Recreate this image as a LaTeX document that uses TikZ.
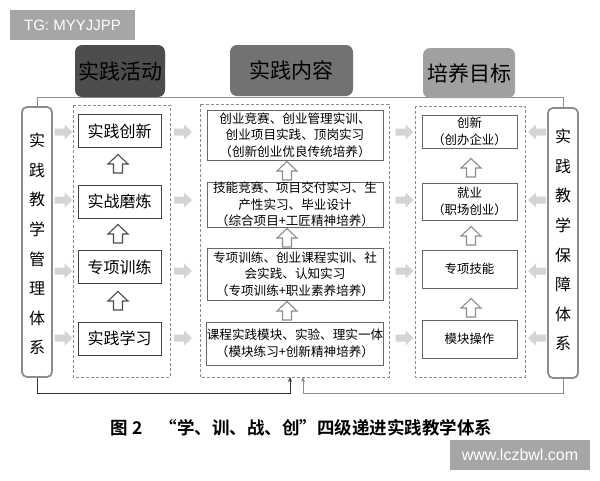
\documentclass[tikz,border=0pt]{standalone}
\usepackage{fontspec}
\setmainfont{Noto Sans CJK SC}[BoldFont={Noto Sans CJK SC Bold}]
\newfontfamily\latinfont{Liberation Sans}
\usetikzlibrary{positioning,arrows.meta}
\definecolor{hdrA}{HTML}{4D4D4D}
\definecolor{hdrB}{HTML}{727272}
\definecolor{hdrC}{HTML}{A0A0A0}
\definecolor{arrowgray}{HTML}{D4D4D4}
\definecolor{linegray}{HTML}{8C8C8C}
\definecolor{wmgray}{HTML}{A6A6A6}
\tikzset{
  hdr/.style={rounded corners=7pt, inner sep=0pt, font=\fontsize{21}{23}\selectfont, text=black},
  bar/.style={draw=linegray, line width=1.8pt, rounded corners=5pt, fill=white, minimum width=30pt, minimum height=270pt, inner sep=0pt},
  dbox/.style={draw=linegray, dashed, dash pattern=on 3pt off 2pt, line width=0.8pt},
  actbox/.style={draw=black!75, line width=0.9pt, fill=white, minimum width=83pt, minimum height=33pt, inner sep=0pt, font=\fontsize{16}{18}\selectfont},
  conbox/.style={draw=black!60, line width=0.9pt, fill=white, minimum width=176pt, inner sep=0pt, align=center, font=\fontsize{12.6}{16.5}\selectfont},
  goalbox/.style={draw=black!60, line width=0.9pt, fill=white, minimum width=95pt, inner sep=0pt, align=center, font=\fontsize{12.4}{17}\selectfont},
  vtext/.style={align=center, font=\fontsize{16}{29.6}\selectfont},
  conn/.style={line width=1pt},
  garrow/.pic={\fill[arrowgray] (-9,-3.5) -- (1,-3.5) -- (1,-7.5) -- (9,0) -- (1,7.5) -- (1,3.5) -- (-9,3.5) -- cycle;},
  uarrow/.pic={\draw[line width=1.1pt, fill=white, line join=miter] (-4.5,9) -- (-4.5,0) -- (-10,0) -- (0,-9.5) -- (10,0) -- (4.5,0) -- (4.5,9) -- cycle;}
}
\begin{document}
\begin{tikzpicture}[x=1pt,y=-1pt]
\useasboundingbox[fill=white] (0,0) rectangle (600,480);
% watermarks
\node[fill=wmgray, minimum width=125pt, minimum height=30pt, inner sep=0pt, text=white, font=\latinfont\fontsize{15}{17}\selectfont] (wm1) at (72.5,25) {TG: MYYJJPP};
\node[fill=wmgray, minimum width=140pt, minimum height=30pt, inner sep=0pt, text=white, font=\latinfont\fontsize{16}{18}\selectfont] (wm2) at (520,455) {www.lczbwl.com};
% bars
\node[bar] (lbar) at (37,242) {};
\node[bar] (rbar) at (563,243) {};
\node[vtext] (ltext) at (37,244) {实\\践\\教\\学\\管\\理\\体\\系};
\node[vtext] (rtext) at (563,240) {实\\践\\教\\学\\保\\障\\体\\系};
% top connector
\coordinate (topy) at (0,97);
\draw[conn, linegray] (lbar.north) -- (lbar.north |- topy) -- (rbar.north |- topy) -- (rbar.north);
% headers
\node[hdr, fill=hdrA, minimum width=90pt, minimum height=52pt] (h1) at (120,71) {实践活动};
\node[hdr, fill=hdrB, minimum width=123pt, minimum height=51pt] (h2) at (291.5,70.5) {实践内容};
\node[hdr, fill=hdrC, minimum width=92pt, minimum height=50pt] (h3) at (469,73) {培养目标};
% dashed boxes
\draw[dbox] (73,105) rectangle (170,377);
\draw[dbox] (200,104) rectangle (389,377);
\draw[dbox] (415,106) rectangle (525,377);
\coordinate (d2bl) at (290,377);
\coordinate (d2br) at (303,377);
% activity boxes
\node[actbox] (a1) at (119.5,131) {实践创新};
\node[actbox] (a2) at (119.5,201.5) {实战磨炼};
\node[actbox] (a3) at (119.5,267) {专项训练};
\node[actbox] (a4) at (119.5,338.5) {实践学习};
% content boxes
\node[conbox, minimum height=50pt] (c1) at (295,135) {创业竞赛、创业管理实训、\\创业项目实践、顶岗实习\\（创新创业优良传统培养）};
\node[conbox, minimum height=45pt] (c2) at (295,204.5) {技能竞赛、项目交付实习、生\\产性实习、毕业设计\\（综合项目+工匠精神培养）};
\node[conbox, minimum height=52pt] (c3) at (295,274) {专项训练、创业课程实训、社\\会实践、认知实习\\（专项训练+职业素养培养）};
\node[conbox, minimum height=43pt] (c4) at (295,343.5) {课程实践模块、实验、理实一体\\（模块练习+创新精神培养）};
% goal boxes
\node[goalbox, minimum height=33pt] (g1) at (469.5,131.5) {创新\\（创办企业）};
\node[goalbox, minimum height=37pt] (g2) at (469.5,201.5) {就业\\（职场创业）};
\node[goalbox, minimum height=38pt] (g3) at (469.5,269) {专项技能};
\node[goalbox, minimum height=38pt] (g4) at (469.5,339) {模块操作};
% hollow up arrows
\begin{scope}[black!70]
\pic at (118,164) {uarrow};
\pic at (118,234) {uarrow};
\pic at (118,301) {uarrow};
\end{scope}
\begin{scope}[black!45]
\pic at (287,171) {uarrow};
\pic at (287,238) {uarrow};
\pic at (287,311) {uarrow};
\pic at (471,168) {uarrow};
\pic at (471,236) {uarrow};
\pic at (471,308) {uarrow};
\end{scope}
% gray block arrows
\foreach \yy in {132,200,271,338} {
  \pic at (63.5,\yy) {garrow};
  \pic at (183,\yy) {garrow};
  \pic at (404.5,\yy) {garrow};
  \pic[rotate=180] at (537,\yy) {garrow};
}
% bottom connectors
\coordinate (boty) at (0,393);
\draw[conn, black!80, -{Stealth[length=5pt,width=4pt]}] (lbar.south) -- (lbar.south |- boty) -- (d2bl |- boty) -- (d2bl);
\draw[conn, linegray, -{Stealth[length=5pt,width=4pt]}] (rbar.south) -- (rbar.south |- boty) -- (d2br |- boty) -- (d2br);
% caption
\node[font=\bfseries\fontsize{17.5}{19}\selectfont, anchor=west] (cap) at (107,428) {图 2\hspace{1em}“学、训、战、创”四级递进实践教学体系};
\end{tikzpicture}
\end{document}
